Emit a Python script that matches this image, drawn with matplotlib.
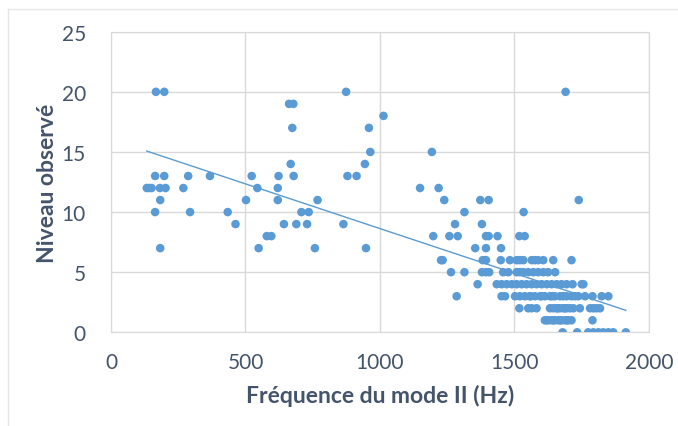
import numpy as np
import matplotlib
matplotlib.use("Agg")
from matplotlib import pyplot as plt
from matplotlib.lines import Line2D

# frequencies (Hz) for each observed level
lvl20 = [167, 198, 874, 1690]
lvl19 = [662, 678]
lvl18 = [1013]
lvl17 = [674, 959]
lvl15 = [964, 1193]
lvl14 = [668, 944]
lvl13 = [164, 198, 287, 368, 523, 623, 679, 879, 913]
lvl12 = [133, 142, 151, 182, 203, 269, 544, 620, 1149, 1218]
lvl11 = [183, 502, 620, 768, 1239, 1373, 1404, 1739]
lvl10 = [164, 294, 434, 708, 735, 1314, 1534]
lvl9 = [463, 643, 689, 729, 864, 1279, 1379]
lvl8 = [579, 596, 1198, 1258, 1289, 1394, 1404, 1437, 1518, 1538]
lvl7 = [183, 549, 758, 948, 1354, 1394, 1450]
lvl6 = [1227, 1233, 1382, 1394, 1449, 1483, 1508, 1520, 1533, 1564, 1576,
        1588, 1607, 1644, 1712]
lvl5 = [1264, 1314, 1379, 1394, 1406, 1458, 1477, 1508, 1520, 1533, 1551,
        1570, 1588, 1607, 1625, 1651]
lvl4 = [1363, 1434, 1452, 1471, 1490, 1508, 1527, 1545, 1564, 1582, 1601,
        1620, 1638, 1657, 1675, 1694, 1716, 1750, 1756]
lvl3 = [1285, 1452, 1465, 1502, 1520, 1539, 1557, 1560, 1576, 1595, 1600,
        1613, 1632, 1640, 1650, 1669, 1681, 1694, 1712, 1725, 1737, 1762,
        1790, 1824, 1849]
lvl2 = [1518, 1551, 1564, 1582, 1632, 1645, 1657, 1660, 1669, 1682, 1688,
        1694, 1706, 1719, 1743, 1781, 1793, 1805, 1818]
lvl1 = [1613, 1620, 1626, 1638, 1645, 1650, 1663, 1670, 1675, 1688, 1695,
        1700, 1712, 1790]
lvl0 = [1679, 1733, 1774, 1793, 1812, 1830, 1849, 1867, 1914]

levels = {20: lvl20, 19: lvl19, 18: lvl18, 17: lvl17, 15: lvl15, 14: lvl14,
          13: lvl13, 12: lvl12, 11: lvl11, 10: lvl10, 9: lvl9, 8: lvl8,
          7: lvl7, 6: lvl6, 5: lvl5, 4: lvl4, 3: lvl3, 2: lvl2, 1: lvl1,
          0: lvl0}

freq = []
niveau = []
for lv, fs in levels.items():
    freq += fs
    niveau += [lv] * len(fs)
freq = np.array(freq, dtype=float)
niveau = np.array(niveau, dtype=float)

blue = '#5B9BD5'
txt = '#44546A'
grid = '#D9D9D9'

plt.rcParams['font.family'] = ['Lato', 'DejaVu Sans']

fig = plt.figure(figsize=(6.78, 4.27), dpi=100)
ax = fig.add_axes([0.1637, 0.2194, 0.7935, 0.704])

ax.scatter(freq, niveau, s=38, color=blue, edgecolors='none', zorder=3)

# linear trendline
a, b = np.polyfit(freq, niveau, 1)
xt = np.array([freq.min(), freq.max()])
ax.plot(xt, a * xt + b, color=blue, lw=1, zorder=2)

ax.set_xlim(0, 2000)
ax.set_ylim(0, 25)
ax.set_xticks([0, 500, 1000, 1500, 2000])
ax.set_yticks([0, 5, 10, 15, 20, 25])
ax.grid(True, color=grid, lw=1)
ax.set_axisbelow(True)
for s in ax.spines.values():
    s.set_color(grid)
ax.tick_params(length=0, labelsize=15, labelcolor=txt)
ax.tick_params(axis='y', pad=18)
ax.tick_params(axis='x', pad=14)

ax.set_xlabel('Fréquence du mode II (Hz)', fontsize=16.5, fontweight='bold',
              color=txt, labelpad=9)
ax.set_ylabel('Niveau observé', fontsize=16.5, fontweight='bold',
              color=txt, labelpad=2.5)

# outer chart frame (partially cropped)
fig.add_artist(Line2D([8 / 678, 8 / 678], [0, 1 - 10 / 427],
                      transform=fig.transFigure, color='#E6E6E6', lw=1))
fig.add_artist(Line2D([8 / 678, 1], [1 - 10 / 427, 1 - 10 / 427],
                      transform=fig.transFigure, color='#E6E6E6', lw=1))

plt.savefig('out.png', dpi=100)
